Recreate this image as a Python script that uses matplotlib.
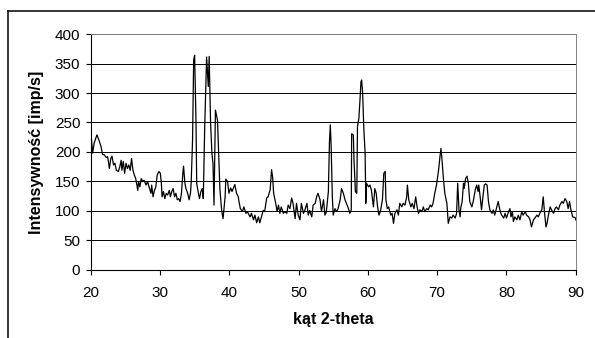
import matplotlib
matplotlib.use("Agg")
from matplotlib import pyplot as plt
from matplotlib.lines import Line2D

plt.rcParams['font.family'] = ['Liberation Sans', 'DejaVu Sans']

two_theta = [
    20.04, 20.28, 20.5, 20.9, 21.2, 21.5, 21.7, 22.0, 22.2, 22.45, 22.7, 22.9,
    23.07, 23.3, 23.5, 23.7, 24.0, 24.2, 24.4, 24.5, 24.7, 24.9, 25.1, 25.3,
    25.5, 25.7, 25.9, 26.1, 26.3, 26.5, 26.8, 26.9, 27.1, 27.3, 27.5, 27.7,
    28.0, 28.2, 28.5, 28.7, 28.8, 29.0, 29.2, 29.4, 29.6, 29.85, 30.05, 30.2,
    30.3, 30.5, 30.7, 30.9, 31.1, 31.35, 31.5, 31.7, 31.9, 32.1, 32.3, 32.5,
    32.7, 32.9, 33.1, 33.3, 33.4, 33.6, 33.75, 34.0, 34.2, 34.4, 34.5, 34.7,
    34.86, 35.0, 35.2, 35.3, 35.5, 35.7, 35.9, 36.1, 36.25, 36.45, 36.73, 36.97,
    37.1, 37.3, 37.5, 37.65, 37.8, 38.0, 38.3, 38.65, 38.9, 39.1, 39.4, 39.5,
    39.76, 39.95, 40.2, 40.4, 40.8, 41.05, 41.3, 41.4, 41.6, 41.9, 42.1, 42.4,
    42.6, 43.0, 43.2, 43.5, 43.7, 43.95, 44.2, 44.4, 44.7, 44.9, 45.1, 45.4,
    45.6, 45.9, 46.1, 46.25, 46.4, 46.7, 46.9, 47.1, 47.3, 47.5, 47.8, 48.0,
    48.3, 48.5, 48.75, 49.0, 49.2, 49.5, 49.7, 49.95, 50.2, 50.4, 50.7, 50.9,
    51.2, 51.4, 51.6, 51.9, 52.1, 52.4, 52.6, 52.8, 53.1, 53.3, 53.6, 53.8,
    54.0, 54.3, 54.45, 54.58, 54.7, 54.87, 55.0, 55.25, 55.5, 55.7, 56.0, 56.2,
    56.46, 56.7, 56.9, 57.2, 57.4, 57.6, 57.66, 57.9, 58.0, 58.2, 58.4, 58.5,
    58.7, 58.86, 59.0, 59.1, 59.25, 59.4, 59.6, 59.7, 59.8, 60.1, 60.3, 60.5,
    60.8, 61.0, 61.2, 61.4, 61.6, 61.8, 62.1, 62.3, 62.5, 62.6, 62.8, 63.0,
    63.3, 63.5, 63.7, 63.9, 64.2, 64.4, 64.6, 64.9, 65.1, 65.35, 65.6, 65.7,
    65.9, 66.2, 66.4, 66.65, 66.9, 67.1, 67.3, 67.5, 67.8, 68.0, 68.2, 68.5,
    68.7, 69.0, 69.2, 69.4, 69.7, 69.9, 70.2, 70.4, 70.55, 70.7, 70.9, 71.1,
    71.4, 71.6, 71.85, 72.1, 72.3, 72.6, 72.8, 72.96, 73.15, 73.3, 73.4, 73.6,
    73.8, 73.9, 74.1, 74.3, 74.5, 74.7, 75.0, 75.2, 75.5, 75.7, 75.9, 76.0,
    76.2, 76.4, 76.6, 76.8, 77.0, 77.2, 77.4, 77.6, 77.9, 78.1, 78.3, 78.6,
    78.8, 79.1, 79.3, 79.6, 79.8, 80.0, 80.3, 80.5, 80.65, 80.85, 81.0, 81.2,
    81.5, 81.7, 81.95, 82.2, 82.4, 82.7, 82.9, 83.2, 83.4, 83.6, 83.9, 84.1,
    84.4, 84.6, 84.8, 85.1, 85.3, 85.5, 85.7, 85.85, 86.0, 86.3, 86.5, 86.8,
    87.0, 87.2, 87.5, 87.7, 88.0, 88.2, 88.45, 88.7, 88.9, 89.1, 89.3, 89.55,
    89.9, 90.0,
]
intensity = [
    232, 198, 215, 229, 220, 209, 196, 195, 191, 192, 172, 189,
    193, 178, 181, 169, 167, 175, 186, 169, 184, 164, 181, 172,
    178, 169, 189, 169, 161, 155, 135, 150, 141, 155, 150, 152,
    144, 150, 138, 130, 144, 124, 135, 141, 161, 167, 164, 147,
    124, 133, 121, 130, 127, 135, 124, 133, 138, 124, 130, 119,
    121, 116, 130, 164, 176, 147, 138, 130, 119, 130, 147, 220,
    356, 364, 249, 147, 133, 121, 133, 138, 121, 240, 361, 311,
    362, 250, 197, 180, 110, 271, 254, 136, 101, 87, 124, 154,
    150, 130, 139, 133, 145, 130, 124, 116, 104, 99, 107, 96,
    99, 90, 96, 85, 93, 80, 90, 80, 93, 101, 99, 122,
    124, 136, 170, 158, 130, 113, 99, 110, 96, 107, 96, 99,
    96, 110, 104, 122, 113, 87, 113, 93, 85, 113, 96, 101,
    113, 93, 101, 90, 110, 113, 124, 130, 119, 99, 119, 93,
    98, 133, 215, 246, 209, 124, 93, 104, 99, 104, 119, 138,
    130, 119, 113, 104, 96, 102, 231, 229, 186, 133, 130, 243,
    257, 288, 319, 322, 299, 243, 198, 113, 147, 141, 144, 136,
    107, 138, 130, 107, 93, 99, 119, 164, 167, 119, 104, 107,
    93, 96, 79, 96, 102, 93, 113, 107, 113, 110, 124, 144,
    119, 107, 113, 104, 124, 107, 96, 102, 99, 107, 99, 104,
    102, 110, 107, 113, 133, 144, 169, 192, 206, 186, 155, 130,
    113, 79, 90, 88, 93, 88, 96, 147, 102, 90, 105, 116,
    147, 138, 155, 159, 147, 116, 107, 116, 136, 144, 133, 144,
    124, 102, 124, 144, 146, 144, 116, 102, 96, 102, 93, 107,
    116, 99, 93, 88, 96, 88, 99, 104, 90, 99, 82, 90,
    85, 93, 85, 99, 93, 99, 93, 90, 85, 73, 85, 88,
    93, 90, 96, 102, 124, 96, 73, 79, 90, 107, 102, 96,
    104, 107, 102, 110, 116, 113, 121, 116, 104, 116, 102, 90,
    89, 85,
]

x_ticks = [20, 30, 40, 50, 60, 70, 80, 90]
y_ticks = [0, 50, 100, 150, 200, 250, 300, 350, 400]

fig = plt.figure(figsize=(5.95, 3.38), dpi=100)
ax = fig.add_axes([0.1524, 0.2012, 0.8153, 0.6982])

ax.plot(two_theta, intensity, color='black', linewidth=0.9)

ax.set_xlim(20, 90)
ax.set_ylim(0, 400)
ax.set_xticks(x_ticks)
ax.set_yticks(y_ticks)
ax.yaxis.grid(True, color='black', linewidth=0.7)
ax.set_axisbelow(True)

for side in ['top', 'right']:
    ax.spines[side].set_color('#808080')
    ax.spines[side].set_linewidth(0.7)
for side in ['left', 'bottom']:
    ax.spines[side].set_linewidth(0.8)

ax.tick_params(direction='out', length=3.5, width=0.8, labelsize=11)
ax.tick_params(axis='x', pad=8)
ax.tick_params(axis='y', pad=4)
ax.set_xlabel('kąt 2-theta', fontsize=11.5, fontweight='bold', labelpad=9)
ax.set_ylabel('Intensywność [imp/s]', fontsize=11.5, fontweight='bold', labelpad=8)

# outer chart frame (cut off at the right and bottom of the image)
fig.add_artist(Line2D([7.6 / 595, 7.6 / 595], [0, 1 - 10.7 / 338],
                      transform=fig.transFigure, color='black', linewidth=1.1))
fig.add_artist(Line2D([7.6 / 595, 1], [1 - 10.7 / 338, 1 - 10.7 / 338],
                      transform=fig.transFigure, color='black', linewidth=1.1))

fig.savefig('out.png', dpi=100)
